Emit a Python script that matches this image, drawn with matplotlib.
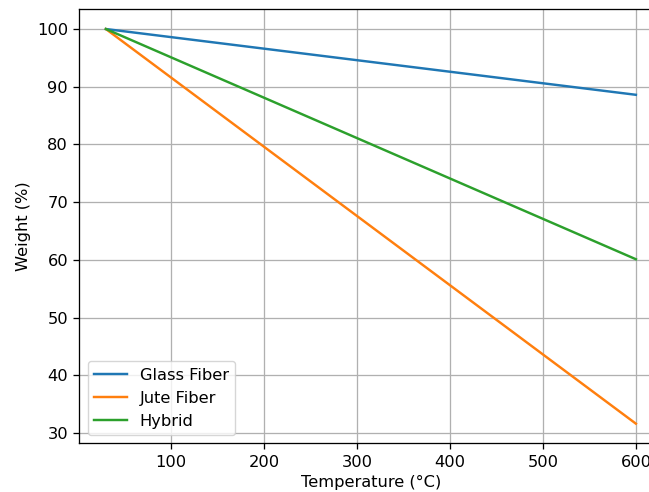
import matplotlib
matplotlib.use("Agg")
import matplotlib.pyplot as plt

temperature = [30, 600]
glass_fiber = [100, 88.6]
jute_fiber = [100, 31.6]
hybrid = [100, 60.1]

s = 1.17
plt.rcParams.update({
    "font.size": 10 * s,
    "lines.linewidth": 1.5 * s,
    "grid.linewidth": 0.8 * s,
    "axes.linewidth": 0.8 * s,
    "xtick.major.width": 0.8 * s,
    "ytick.major.width": 0.8 * s,
    "xtick.major.size": 3.5 * s,
    "ytick.major.size": 3.5 * s,
    "xtick.major.pad": 3.5 * s,
    "ytick.major.pad": 3.5 * s,
})

fig = plt.figure(figsize=(6.49, 4.92), dpi=100)
W, H = 649, 492
ax = fig.add_axes([79.4 / W, (H - 443.4) / H, 583 / W, (443.4 - 9.3) / H])
ax.plot(temperature, glass_fiber, label="Glass Fiber")
ax.plot(temperature, jute_fiber, label="Jute Fiber")
ax.plot(temperature, hybrid, label="Hybrid")
ax.set_xlabel("Temperature (°C)")
ax.set_ylabel("Weight (%)")
ax.grid(True)
ax.legend(loc="lower left")
fig.savefig("out.png", dpi=100)
